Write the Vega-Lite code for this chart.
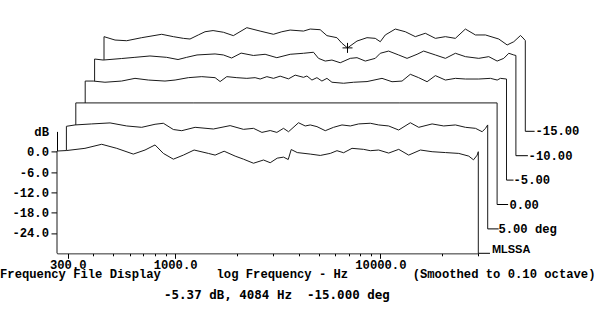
{
  "$schema": "https://vega.github.io/schema/vega-lite/v6.json",
  "width": 421.3,
  "height": 121.9,
  "autosize": {"type": "none"},
  "padding": {"left": 57, "top": 131.4, "right": 121.7, "bottom": 74.7},
  "background": "white",
  "config": {
    "view": {"stroke": null},
    "axis": {
      "domainColor": "black", "domainWidth": 1, "tickColor": "black", "tickWidth": 1,
      "labelColor": "black", "labelFont": "Liberation Mono", "labelFontWeight": "bold", "labelFontSize": 12.2,
      "titleColor": "black", "titleFont": "Liberation Mono", "titleFontWeight": "bold", "titleFontSize": 12.2,
      "grid": false, "zindex": 1, "labelOverlap": false
    }
  },
  "datasets": {
    "curves": [
      {"a":10,"f":266,"db":-30},{"a":10,"f":266,"db":0.2},{"a":10,"f":296,"db":0.35},{"a":10,"f":364,"db":1.0},{"a":10,"f":439,"db":2.2},{"a":10,"f":520,"db":1.0},{"a":10,"f":626,"db":-0.7},{"a":10,"f":714,"db":0.5},{"a":10,"f":799,"db":2.0},{"a":10,"f":877,"db":-0.5},{"a":10,"f":981,"db":-2.2},{"a":10,"f":1098,"db":-1.0},{"a":10,"f":1238,"db":0.5},{"a":10,"f":1453,"db":-0.5},{"a":10,"f":1567,"db":-1.0},{"a":10,"f":1734,"db":0.15},{"a":10,"f":1962,"db":-1.3},{"a":10,"f":2154,"db":-2.2},{"a":10,"f":2410,"db":-3.4},{"a":10,"f":2697,"db":-2.45},{"a":10,"f":2907,"db":-3.25},{"a":10,"f":3146,"db":-1.9},{"a":10,"f":3376,"db":-1.6},{"a":10,"f":3558,"db":-2.3},{"a":10,"f":3680,"db":0.65},{"a":10,"f":3937,"db":-0.25},{"a":10,"f":4555,"db":-0.7},{"a":10,"f":5097,"db":-1.1},{"a":10,"f":5703,"db":-0.5},{"a":10,"f":6148,"db":0.3},{"a":10,"f":6622,"db":-0.3},{"a":10,"f":7278,"db":1.0},{"a":10,"f":8287,"db":0.7},{"a":10,"f":8937,"db":0.3},{"a":10,"f":9811,"db":0.5},{"a":10,"f":10979,"db":-0.4},{"a":10,"f":12286,"db":0.7},{"a":10,"f":13740,"db":-1.0},{"a":10,"f":15670,"db":0.5},{"a":10,"f":17870,"db":0.0},{"a":10,"f":20760,"db":-0.25},{"a":10,"f":24100,"db":-0.5},{"a":10,"f":26960,"db":-1.3},{"a":10,"f":28430,"db":-2.4},{"a":10,"f":29630,"db":-1.0},{"a":10,"f":30000,"db":0.0},{"a":10,"f":30000,"db":-30},

      {"a":5,"f":266,"db":-30},{"a":5,"f":266,"db":0.3},{"a":5,"f":293,"db":0.7},{"a":5,"f":353,"db":1.0},{"a":5,"f":434,"db":1.3},{"a":5,"f":523,"db":0.4},{"a":5,"f":619,"db":0.0},{"a":5,"f":719,"db":0.9},{"a":5,"f":789,"db":1.2},{"a":5,"f":883,"db":-0.65},{"a":5,"f":970,"db":-1.0},{"a":5,"f":1127,"db":0.0},{"a":5,"f":1383,"db":-0.5},{"a":5,"f":1669,"db":0.5},{"a":5,"f":1938,"db":-0.6},{"a":5,"f":2169,"db":-0.3},{"a":5,"f":2384,"db":-1.5},{"a":5,"f":2616,"db":-0.95},{"a":5,"f":2819,"db":-1.5},{"a":5,"f":3037,"db":-0.3},{"a":5,"f":3213,"db":-1.3},{"a":5,"f":3594,"db":1.35},{"a":5,"f":3875,"db":0.4},{"a":5,"f":4100,"db":0.7},{"a":5,"f":4420,"db":0.2},{"a":5,"f":4852,"db":-1.0},{"a":5,"f":5325,"db":0.0},{"a":5,"f":5853,"db":0.7},{"a":5,"f":6424,"db":0.4},{"a":5,"f":7053,"db":1.0},{"a":5,"f":8042,"db":1.2},{"a":5,"f":8830,"db":0.7},{"a":5,"f":9876,"db":0.4},{"a":5,"f":11050,"db":-0.8},{"a":5,"f":12600,"db":1.35},{"a":5,"f":13840,"db":0.0},{"a":5,"f":16080,"db":1.0},{"a":5,"f":18320,"db":0.4},{"a":5,"f":20890,"db":0.7},{"a":5,"f":23380,"db":0.0},{"a":5,"f":26160,"db":-0.3},{"a":5,"f":28190,"db":-1.3},{"a":5,"f":29270,"db":-0.3},{"a":5,"f":30000,"db":0.7},{"a":5,"f":30000,"db":-30},

      {"a":0,"f":266,"db":-30},{"a":0,"f":266,"db":0},{"a":0,"f":1000,"db":0},{"a":0,"f":10000,"db":0},{"a":0,"f":30000,"db":0},{"a":0,"f":30000,"db":-30},

      {"a":-5,"f":266,"db":-30},{"a":-5,"f":266,"db":-0.75},{"a":-5,"f":291,"db":-0.75},{"a":-5,"f":332,"db":-1.1},{"a":-5,"f":400,"db":-0.75},{"a":-5,"f":465,"db":0.05},{"a":-5,"f":540,"db":-0.45},{"a":-5,"f":651,"db":-0.75},{"a":-5,"f":729,"db":-0.45},{"a":-5,"f":846,"db":0.25},{"a":-5,"f":983,"db":0.55},{"a":-5,"f":1142,"db":0.25},{"a":-5,"f":1208,"db":-0.9},{"a":-5,"f":1302,"db":0.55},{"a":-5,"f":1457,"db":0.25},{"a":-5,"f":1630,"db":0.05},{"a":-5,"f":1789,"db":0.25},{"a":-5,"f":1893,"db":-0.15},{"a":-5,"f":2041,"db":0.55},{"a":-5,"f":2198,"db":0.05},{"a":-5,"f":2369,"db":0.7},{"a":-5,"f":2601,"db":-0.1},{"a":-5,"f":2804,"db":1.0},{"a":-5,"f":3078,"db":0.35},{"a":-5,"f":3198,"db":0.75},{"a":-5,"f":3383,"db":-0.45},{"a":-5,"f":3578,"db":0.25},{"a":-5,"f":3784,"db":-0.75},{"a":-5,"f":4003,"db":0.05},{"a":-5,"f":4234,"db":-1.1},{"a":-5,"f":4825,"db":-1.4},{"a":-5,"f":5398,"db":-1.1},{"a":-5,"f":6276,"db":-0.9},{"a":-5,"f":7425,"db":0.05},{"a":-5,"f":8307,"db":-0.95},{"a":-5,"f":9297,"db":-0.75},{"a":-5,"f":10200,"db":1.25},{"a":-5,"f":11200,"db":0.25},{"a":-5,"f":12310,"db":-0.95},{"a":-5,"f":13510,"db":0.85},{"a":-5,"f":15120,"db":-0.45},{"a":-5,"f":16920,"db":0.05},{"a":-5,"f":18930,"db":-0.15},{"a":-5,"f":21980,"db":-0.15},{"a":-5,"f":25060,"db":0.05},{"a":-5,"f":27020,"db":-0.45},{"a":-5,"f":28040,"db":0.05},{"a":-5,"f":30000,"db":-0.15},{"a":-5,"f":30000,"db":-30},

      {"a":-10,"f":266,"db":-30},{"a":-10,"f":266,"db":-1.45},{"a":-10,"f":293,"db":-1.75},{"a":-10,"f":360,"db":-1.3},{"a":-10,"f":418,"db":-0.95},{"a":-10,"f":495,"db":-0.55},{"a":-10,"f":597,"db":-0.95},{"a":-10,"f":678,"db":-1.6},{"a":-10,"f":747,"db":-0.95},{"a":-10,"f":839,"db":-0.25},{"a":-10,"f":1027,"db":0.05},{"a":-10,"f":1128,"db":-0.25},{"a":-10,"f":1237,"db":-1.15},{"a":-10,"f":1376,"db":0.3},{"a":-10,"f":1579,"db":-0.4},{"a":-10,"f":1801,"db":-0.05},{"a":-10,"f":2054,"db":-1.05},{"a":-10,"f":2386,"db":-0.05},{"a":-10,"f":2770,"db":0.25},{"a":-10,"f":3099,"db":0.55},{"a":-10,"f":3278,"db":-1.25},{"a":-10,"f":3534,"db":-2.05},{"a":-10,"f":3811,"db":-1.75},{"a":-10,"f":4182,"db":-2.55},{"a":-10,"f":4680,"db":-1.25},{"a":-10,"f":5047,"db":-1.05},{"a":-10,"f":5538,"db":-2.05},{"a":-10,"f":6196,"db":-1.25},{"a":-10,"f":6553,"db":0.25},{"a":-10,"f":7195,"db":0.9},{"a":-10,"f":8052,"db":-0.25},{"a":-10,"f":8849,"db":-1.25},{"a":-10,"f":9899,"db":-0.05},{"a":-10,"f":10660,"db":0.9},{"a":-10,"f":12160,"db":-0.25},{"a":-10,"f":13610,"db":-1.25},{"a":-10,"f":15220,"db":0.25},{"a":-10,"f":17030,"db":-0.75},{"a":-10,"f":19780,"db":-1.25},{"a":-10,"f":22130,"db":-0.75},{"a":-10,"f":24310,"db":-2.05},{"a":-10,"f":26190,"db":-1.25},{"a":-10,"f":27700,"db":0.25},{"a":-10,"f":29300,"db":-0.25},{"a":-10,"f":30000,"db":-0.4},{"a":-10,"f":30000,"db":-30},

      {"a":-15,"f":266,"db":-30},{"a":-15,"f":266,"db":-2.05},{"a":-15,"f":301,"db":-3.05},{"a":-15,"f":343,"db":-3.25},{"a":-15,"f":406,"db":-2.35},{"a":-15,"f":508,"db":-1.35},{"a":-15,"f":579,"db":-2.05},{"a":-15,"f":648,"db":-2.55},{"a":-15,"f":698,"db":-2.75},{"a":-15,"f":766,"db":-1.55},{"a":-15,"f":826,"db":-0.6},{"a":-15,"f":904,"db":-0.25},{"a":-15,"f":1015,"db":-0.75},{"a":-15,"f":1135,"db":-1.75},{"a":-15,"f":1320,"db":0.6},{"a":-15,"f":1532,"db":-0.4},{"a":-15,"f":1779,"db":-1.35},{"a":-15,"f":1955,"db":-0.6},{"a":-15,"f":2146,"db":-0.1},{"a":-15,"f":2493,"db":-0.4},{"a":-15,"f":2688,"db":0.2},{"a":-15,"f":3006,"db":0.0},{"a":-15,"f":3242,"db":-1.75},{"a":-15,"f":3627,"db":-2.35},{"a":-15,"f":3836,"db":-4.0},{"a":-15,"f":4084,"db":-5.37},{"a":-15,"f":4541,"db":-3.35},{"a":-15,"f":5080,"db":-2.35},{"a":-15,"f":5576,"db":-2.55},{"a":-15,"f":5898,"db":-3.55},{"a":-15,"f":6238,"db":-1.55},{"a":-15,"f":6980,"db":0.2},{"a":-15,"f":7810,"db":-0.6},{"a":-15,"f":8738,"db":-2.05},{"a":-15,"f":9777,"db":-1.05},{"a":-15,"f":10940,"db":-2.55},{"a":-15,"f":12240,"db":-2.05},{"a":-15,"f":13690,"db":-2.55},{"a":-15,"f":15320,"db":0.2},{"a":-15,"f":17150,"db":-1.55},{"a":-15,"f":19190,"db":-1.55},{"a":-15,"f":22280,"db":-2.75},{"a":-15,"f":24480,"db":-4.5},{"a":-15,"f":26360,"db":-3.55},{"a":-15,"f":28430,"db":-1.7},{"a":-15,"f":29250,"db":-2.45},{"a":-15,"f":30000,"db":-3.2},{"a":-15,"f":30000,"db":-30}
    ]
  },
  "layer": [
    {"data": {"name": "curves"}, "transform": [{"filter": "datum.a == -15"}], "mark": {"type": "area", "fill": "white", "opacity": 1, "xOffset": 47, "yOffset": -122, "y2Offset": -122},
     "encoding": {
      "x": {
        "field": "f", "type": "quantitative",
        "scale": {"type": "log", "domain": [266, 30000], "nice": false},
        "axis": {
          "values": [300,400,500,600,700,800,900,1000,2000,3000,4000,5000,6000,7000,8000,9000,10000,20000,30000],
          "tickCount": 50,
          "labelExpr": "(datum.value == 300 || datum.value == 1000 || datum.value == 10000) ? datum.value + '.0' : ''",
          "tickSize": {"condition": {"test": "datum.value == 300 || datum.value == 1000 || datum.value == 10000", "value": 5}, "value": 2.5},
          "labelPadding": 0.5, "labelOverlap": false, "labelFlush": false,
          "title": "log Frequency - Hz", "titleX": 159, "titleY": 24.3, "titleAlign": "left", "titleAnchor": "start", "titleBaseline": "alphabetic"
        }
      },
      "y": {
        "field": "db", "type": "quantitative",
        "scale": {"domain": [-30, 6], "nice": false, "zero": false},
        "axis": {
          "values": [0, -6, -12, -18, -24],
          "tickCount": 20,
          "labelExpr": "datum.value == 0 ? '0.0' : datum.value + '.0'",
          "tickSize": 6, "labelPadding": 2.5, "labelOverlap": false,
          "title": "dB", "titleAngle": 0, "titleX": -8.5, "titleY": 0.3, "titleAlign": "right", "titleBaseline": "middle"
        }
      },
      "y2": {"datum": -30}
     }},
    {"data": {"name": "curves"}, "transform": [{"filter": "datum.a == -15"}], "mark": {"type": "line", "stroke": "#1a1a1a", "strokeWidth": 1, "xOffset": 47, "yOffset": -122}, "encoding": {"x": {"field": "f", "type": "quantitative", "scale": {"type": "log", "domain": [266, 30000], "nice": false}}, "y": {"field": "db", "type": "quantitative", "scale": {"domain": [-30, 6], "nice": false, "zero": false}}, "order": {"value": null}}},
    {"data": {"name": "curves"}, "transform": [{"filter": "datum.a == -10"}], "mark": {"type": "area", "fill": "white", "opacity": 1, "xOffset": 37.6, "yOffset": -97.6, "y2Offset": -97.6}, "encoding": {"x": {"field": "f", "type": "quantitative", "scale": {"type": "log", "domain": [266, 30000], "nice": false}}, "y": {"field": "db", "type": "quantitative", "scale": {"domain": [-30, 6], "nice": false, "zero": false}}, "y2": {"datum": -30}}},
    {"data": {"name": "curves"}, "transform": [{"filter": "datum.a == -10"}], "mark": {"type": "line", "stroke": "#1a1a1a", "strokeWidth": 1, "xOffset": 37.6, "yOffset": -97.6}, "encoding": {"x": {"field": "f", "type": "quantitative", "scale": {"type": "log", "domain": [266, 30000], "nice": false}}, "y": {"field": "db", "type": "quantitative", "scale": {"domain": [-30, 6], "nice": false, "zero": false}}, "order": {"value": null}}},
    {"data": {"name": "curves"}, "transform": [{"filter": "datum.a == -5"}], "mark": {"type": "area", "fill": "white", "opacity": 1, "xOffset": 28.2, "yOffset": -73.2, "y2Offset": -73.2}, "encoding": {"x": {"field": "f", "type": "quantitative", "scale": {"type": "log", "domain": [266, 30000], "nice": false}}, "y": {"field": "db", "type": "quantitative", "scale": {"domain": [-30, 6], "nice": false, "zero": false}}, "y2": {"datum": -30}}},
    {"data": {"name": "curves"}, "transform": [{"filter": "datum.a == -5"}], "mark": {"type": "line", "stroke": "#1a1a1a", "strokeWidth": 1, "xOffset": 28.2, "yOffset": -73.2}, "encoding": {"x": {"field": "f", "type": "quantitative", "scale": {"type": "log", "domain": [266, 30000], "nice": false}}, "y": {"field": "db", "type": "quantitative", "scale": {"domain": [-30, 6], "nice": false, "zero": false}}, "order": {"value": null}}},
    {"data": {"name": "curves"}, "transform": [{"filter": "datum.a == 0"}], "mark": {"type": "area", "fill": "white", "opacity": 1, "xOffset": 18.8, "yOffset": -48.8, "y2Offset": -48.8}, "encoding": {"x": {"field": "f", "type": "quantitative", "scale": {"type": "log", "domain": [266, 30000], "nice": false}}, "y": {"field": "db", "type": "quantitative", "scale": {"domain": [-30, 6], "nice": false, "zero": false}}, "y2": {"datum": -30}}},
    {"data": {"name": "curves"}, "transform": [{"filter": "datum.a == 0"}], "mark": {"type": "line", "stroke": "#1a1a1a", "strokeWidth": 1, "xOffset": 18.8, "yOffset": -48.8}, "encoding": {"x": {"field": "f", "type": "quantitative", "scale": {"type": "log", "domain": [266, 30000], "nice": false}}, "y": {"field": "db", "type": "quantitative", "scale": {"domain": [-30, 6], "nice": false, "zero": false}}, "order": {"value": null}}},
    {"data": {"name": "curves"}, "transform": [{"filter": "datum.a == 5"}], "mark": {"type": "area", "fill": "white", "opacity": 1, "xOffset": 9.4, "yOffset": -24.4, "y2Offset": -24.4}, "encoding": {"x": {"field": "f", "type": "quantitative", "scale": {"type": "log", "domain": [266, 30000], "nice": false}}, "y": {"field": "db", "type": "quantitative", "scale": {"domain": [-30, 6], "nice": false, "zero": false}}, "y2": {"datum": -30}}},
    {"data": {"name": "curves"}, "transform": [{"filter": "datum.a == 5"}], "mark": {"type": "line", "stroke": "#1a1a1a", "strokeWidth": 1, "xOffset": 9.4, "yOffset": -24.4}, "encoding": {"x": {"field": "f", "type": "quantitative", "scale": {"type": "log", "domain": [266, 30000], "nice": false}}, "y": {"field": "db", "type": "quantitative", "scale": {"domain": [-30, 6], "nice": false, "zero": false}}, "order": {"value": null}}},
    {"data": {"name": "curves"}, "transform": [{"filter": "datum.a == 10"}], "mark": {"type": "area", "fill": "white", "opacity": 1}, "encoding": {"x": {"field": "f", "type": "quantitative", "scale": {"type": "log", "domain": [266, 30000], "nice": false}}, "y": {"field": "db", "type": "quantitative", "scale": {"domain": [-30, 6], "nice": false, "zero": false}}, "y2": {"datum": -30}}},
    {"data": {"name": "curves"}, "transform": [{"filter": "datum.a == 10"}], "mark": {"type": "line", "stroke": "#1a1a1a", "strokeWidth": 1}, "encoding": {"x": {"field": "f", "type": "quantitative", "scale": {"type": "log", "domain": [266, 30000], "nice": false}}, "y": {"field": "db", "type": "quantitative", "scale": {"domain": [-30, 6], "nice": false, "zero": false}}, "order": {"value": null}}},

    {"data": {"values": [{}]}, "mark": {"type": "rule", "stroke": "black", "strokeWidth": 1, "x2Offset": 11.7}, "encoding": {"x": {"datum": 30000}, "x2": {"datum": 30000}, "y": {"datum": -30}}},
    {"data": {"values": [{}]}, "mark": {"type": "rule", "stroke": "black", "strokeWidth": 1, "xOffset": 9.4, "x2Offset": 20.4, "yOffset": -24.4}, "encoding": {"x": {"datum": 30000}, "x2": {"datum": 30000}, "y": {"datum": -30}}},
    {"data": {"values": [{}]}, "mark": {"type": "rule", "stroke": "black", "strokeWidth": 1, "xOffset": 18.8, "x2Offset": 29.8, "yOffset": -48.8}, "encoding": {"x": {"datum": 30000}, "x2": {"datum": 30000}, "y": {"datum": -30}}},
    {"data": {"values": [{}]}, "mark": {"type": "rule", "stroke": "black", "strokeWidth": 1, "xOffset": 28.2, "x2Offset": 35.2, "yOffset": -73.2}, "encoding": {"x": {"datum": 30000}, "x2": {"datum": 30000}, "y": {"datum": -30}}},
    {"data": {"values": [{}]}, "mark": {"type": "rule", "stroke": "black", "strokeWidth": 1, "xOffset": 37.6, "x2Offset": 49.6, "yOffset": -97.6}, "encoding": {"x": {"datum": 30000}, "x2": {"datum": 30000}, "y": {"datum": -30}}},
    {"data": {"values": [{}]}, "mark": {"type": "rule", "stroke": "black", "strokeWidth": 1, "xOffset": 47, "x2Offset": 56.3, "yOffset": -122}, "encoding": {"x": {"datum": 30000}, "x2": {"datum": 30000}, "y": {"datum": -30}}},

    {"data": {"values": [{}]}, "mark": {"type": "text", "text": "MLSSA", "align": "left", "baseline": "alphabetic", "dx": 13.6, "font": "Liberation Sans", "fontWeight": "bold", "fontSize": 11, "color": "black"}, "encoding": {"x": {"datum": 30000}, "y": {"datum": -30}}},
    {"data": {"values": [{}]}, "mark": {"type": "text", "text": "5.00 deg", "align": "left", "baseline": "middle", "dx": 20.1, "dy": -24.4, "font": "Liberation Mono", "fontWeight": "bold", "fontSize": 12.2, "color": "black"}, "encoding": {"x": {"datum": 30000}, "y": {"datum": -30}}},
    {"data": {"values": [{}]}, "mark": {"type": "text", "text": "0.00", "align": "left", "baseline": "middle", "dx": 31.2, "dy": -48.8, "font": "Liberation Mono", "fontWeight": "bold", "fontSize": 12.2, "color": "black"}, "encoding": {"x": {"datum": 30000}, "y": {"datum": -30}}},
    {"data": {"values": [{}]}, "mark": {"type": "text", "text": "-5.00", "align": "left", "baseline": "middle", "dx": 35.2, "dy": -73.2, "font": "Liberation Mono", "fontWeight": "bold", "fontSize": 12.2, "color": "black"}, "encoding": {"x": {"datum": 30000}, "y": {"datum": -30}}},
    {"data": {"values": [{}]}, "mark": {"type": "text", "text": "-10.00", "align": "left", "baseline": "middle", "dx": 50.3, "dy": -97.6, "font": "Liberation Mono", "fontWeight": "bold", "fontSize": 12.2, "color": "black"}, "encoding": {"x": {"datum": 30000}, "y": {"datum": -30}}},
    {"data": {"values": [{}]}, "mark": {"type": "text", "text": "-15.00", "align": "left", "baseline": "middle", "dx": 57.2, "dy": -122, "font": "Liberation Mono", "fontWeight": "bold", "fontSize": 12.2, "color": "black"}, "encoding": {"x": {"datum": 30000}, "y": {"datum": -30}}},

    {"data": {"values": [{"f": 4084, "db": -5.37}]}, "mark": {"type": "point", "shape": "M-1,0L1,0M0,-1L0,1", "size": 100, "filled": false, "stroke": "black", "strokeWidth": 1, "opacity": 1, "xOffset": 47, "yOffset": -122}, "encoding": {"x": {"field": "f", "type": "quantitative", "scale": {"type": "log", "domain": [266, 30000], "nice": false}}, "y": {"field": "db", "type": "quantitative", "scale": {"domain": [-30, 6], "nice": false, "zero": false}}}},

    {"data": {"values": [{}]}, "mark": {"type": "text", "text": "Frequency File Display", "align": "left", "baseline": "alphabetic", "dx": -57, "dy": 24.3, "font": "Liberation Mono", "fontWeight": "bold", "fontSize": 12.2, "color": "black"}, "encoding": {"x": {"datum": 266}, "y": {"datum": -30}}},
    {"data": {"values": [{}]}, "mark": {"type": "text", "text": "(Smoothed to 0.10 octave)", "align": "right", "baseline": "alphabetic", "dx": 117.2, "dy": 24.3, "font": "Liberation Mono", "fontWeight": "bold", "fontSize": 12.2, "color": "black"}, "encoding": {"x": {"datum": 30000}, "y": {"datum": -30}}},
    {"data": {"values": [{}]}, "mark": {"type": "text", "text": "-5.37 dB, 4084 Hz\u00a0\u00a0-15.000 deg", "align": "center", "baseline": "alphabetic", "dx": -23.6, "dy": 46, "font": "DejaVu Sans Mono", "fontWeight": "bold", "fontSize": 12.5, "color": "black"}, "encoding": {"x": {"datum": 4084}, "y": {"datum": -30}}}
  ]
}
